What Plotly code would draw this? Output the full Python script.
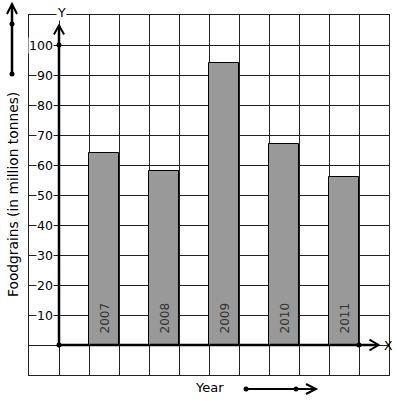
import plotly.graph_objects as go

years = ["2007", "2008", "2009", "2010", "2011"]
foodgrains = [64, 58, 94, 67, 56]
y_ticks = [10, 20, 30, 40, 50, 60, 70, 80, 90, 100]

FONT = "DejaVu Sans"
# bars sit in every second grid cell to the right of the Y axis
xpos = [1.5 + 2 * i for i in range(len(years))]

fig = go.Figure()
fig.add_trace(go.Bar(
    x=xpos, y=foodgrains, width=1,
    marker=dict(color="#999999", line=dict(color="black", width=1)),
    hoverinfo="skip", showlegend=False,
))

def px2paper_x(px):
    return (px - 29) / 360.0

def px2paper_y(py):
    return (375 - py) / 360.0

shapes = []
annotations = []

# axes lines
shapes.append(dict(type="line", xref="x", yref="y", x0=0, y0=0, x1=0, y1=106.5,
                   line=dict(color="black", width=2.5), layer="above"))
shapes.append(dict(type="line", xref="x", yref="y", x0=0, y0=0, x1=10.65, y1=0,
                   line=dict(color="black", width=2.5), layer="above"))
# Y arrow head
shapes.append(dict(type="path", xref="x", yref="y",
                   path="M -0.17,103.5 L 0,106.5 L 0.17,103.5",
                   line=dict(color="black", width=2), layer="above"))
# X arrow head
shapes.append(dict(type="path", xref="x", yref="y",
                   path="M 10.35,1.8 L 10.65,0 L 10.35,-1.8",
                   line=dict(color="black", width=2), layer="above"))
# dots on axes
for (dx, dy) in [(0, 0), (0, 100), (10, 0)]:
    shapes.append(dict(type="circle", xref="x", yref="y", xsizemode="pixel", ysizemode="pixel",
                       xanchor=dx, yanchor=dy, x0=-2.5, x1=2.5, y0=-2.5, y1=2.5,
                       fillcolor="black", line=dict(color="black", width=0), layer="above"))

# top-left scale arrow (vertical)
lx = px2paper_x(12)
shapes.append(dict(type="line", xref="paper", yref="paper", x0=lx, x1=lx,
                   y0=px2paper_y(74), y1=px2paper_y(4), line=dict(color="black", width=2.5)))
shapes.append(dict(type="path", xref="paper", yref="paper",
                   path=f"M {px2paper_x(7)},{px2paper_y(14)} L {lx},{px2paper_y(4)} L {px2paper_x(17)},{px2paper_y(14)}",
                   line=dict(color="black", width=2)))
for py in [74, 24]:
    shapes.append(dict(type="circle", xref="paper", yref="paper", xsizemode="pixel", ysizemode="pixel",
                       xanchor=lx, yanchor=px2paper_y(py), x0=-2.5, x1=2.5, y0=-2.5, y1=2.5,
                       fillcolor="black", line=dict(color="black", width=0)))

# bottom scale arrow (horizontal)
by = px2paper_y(389)
shapes.append(dict(type="line", xref="paper", yref="paper", x0=px2paper_x(246), x1=px2paper_x(316),
                   y0=by, y1=by, line=dict(color="black", width=2)))
shapes.append(dict(type="path", xref="paper", yref="paper",
                   path=f"M {px2paper_x(306)},{px2paper_y(384)} L {px2paper_x(316)},{by} L {px2paper_x(306)},{px2paper_y(394)}",
                   line=dict(color="black", width=2)))
for pxx in [246, 296]:
    shapes.append(dict(type="circle", xref="paper", yref="paper", xsizemode="pixel", ysizemode="pixel",
                       xanchor=px2paper_x(pxx), yanchor=by, x0=-2.5, x1=2.5, y0=-2.5, y1=2.5,
                       fillcolor="black", line=dict(color="black", width=0)))

# y tick labels with white background over the grid
for t in y_ticks:
    annotations.append(dict(x=0, y=t, xref="x", yref="y", text=str(t), showarrow=False,
                            xanchor="right", yanchor="middle", xshift=-5,
                            bgcolor="white", borderpad=0,
                            font=dict(family=FONT, size=12.5, color="black")))

# year labels inside bars
for xp, yr in zip(xpos, years):
    annotations.append(dict(x=xp, y=0, xref="x", yref="y", text=yr, showarrow=False,
                            textangle=-90, xanchor="center", yanchor="bottom", yshift=9,
                            font=dict(family=FONT, size=12, color="#333333")))

# axis letters
annotations.append(dict(x=0, y=110, xref="x", yref="y", text="Y", showarrow=False,
                        xanchor="center", yanchor="middle", xshift=2, yshift=3,
                        bgcolor="white", borderpad=0,
                        font=dict(family=FONT, size=12.5, color="black")))
annotations.append(dict(x=10.65, y=0, xref="x", yref="y", text="X", showarrow=False,
                        xanchor="left", yanchor="middle", xshift=3,
                        font=dict(family=FONT, size=12.5, color="black")))

# axis titles
annotations.append(dict(x=px2paper_x(13), y=px2paper_y(195), xref="paper", yref="paper",
                        text="Foodgrains (in million tonnes)", showarrow=False, textangle=-90,
                        xanchor="center", yanchor="middle",
                        font=dict(family=FONT, size=13.8, color="black")))
annotations.append(dict(x=px2paper_x(209), y=px2paper_y(387), xref="paper", yref="paper",
                        text="Year", showarrow=False, xanchor="center", yanchor="middle",
                        font=dict(family=FONT, size=13, color="black")))

fig.update_layout(
    width=397, height=401,
    margin=dict(l=29, r=8, t=15, b=26),
    paper_bgcolor="white", plot_bgcolor="white",
    shapes=shapes, annotations=annotations,
    bargap=0,
    xaxis=dict(range=[-1, 11], tick0=-1, dtick=1, showgrid=True, gridcolor="#222222", gridwidth=1,
               showticklabels=False, ticks="", zeroline=False,
               showline=True, mirror=True, linecolor="#222222", linewidth=1, fixedrange=True),
    yaxis=dict(range=[-10, 110], tick0=-10, dtick=10, showgrid=True, gridcolor="#222222", gridwidth=1,
               showticklabels=False, ticks="", zeroline=False,
               showline=True, mirror=True, linecolor="#222222", linewidth=1, fixedrange=True),
    font=dict(family=FONT),
)

fig.write_html("out.html", config={"displayModeBar": False},
               post_script="document.body.style.margin='0';document.body.style.overflow='hidden';")
